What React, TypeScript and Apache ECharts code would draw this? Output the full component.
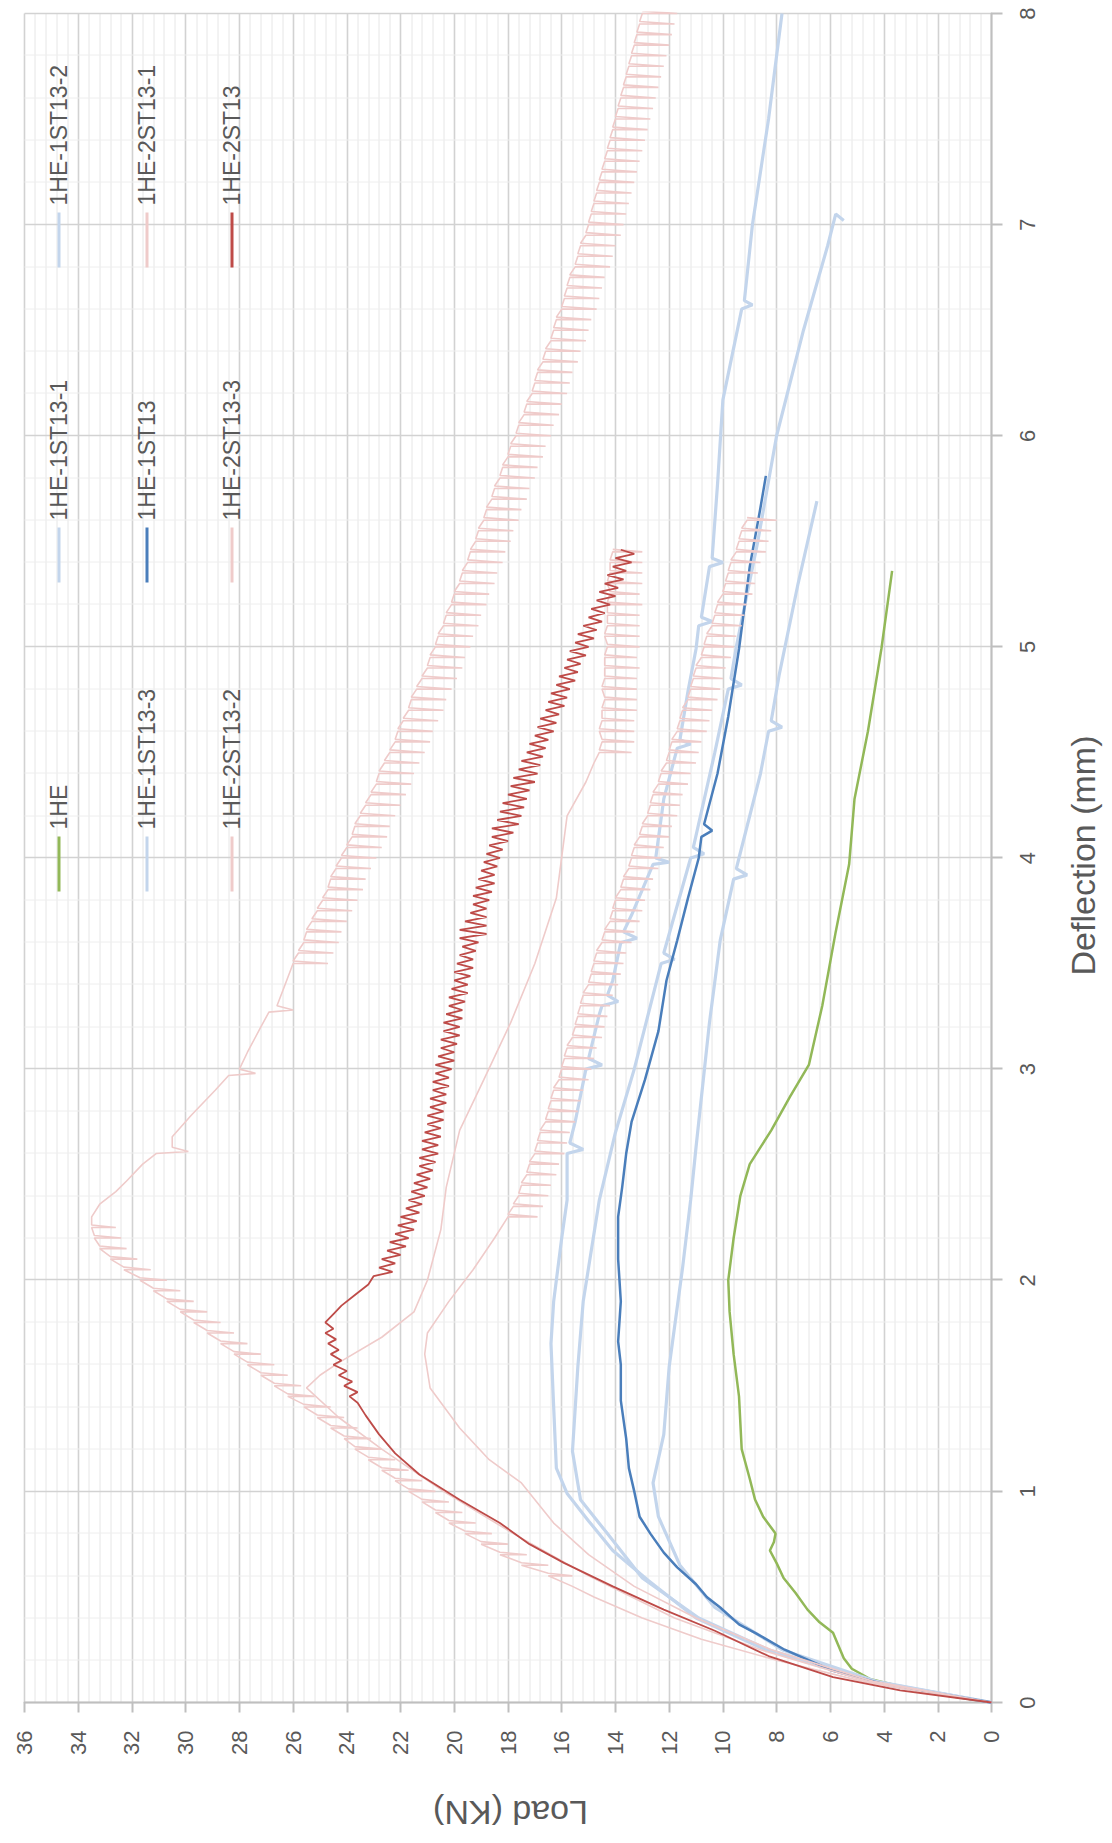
import React, { useEffect, useRef } from "react";
import * as echarts from "echarts";

type Pt = [number, number];
// [deflection, peak load, load after unloading] for one load cycle
type Cycle = [number, number, number];

// ---------- series values: [deflection (mm), load (kN)] ----------
const he1: Pt[] = [
  [0, 0], [0.05, 2.5], [0.11, 4.5], [0.16, 5.2], [0.21, 5.5], [0.27, 5.7], [0.33, 5.9], [0.38, 6.4],
  [0.44, 6.85], [0.52, 7.3], [0.59, 7.74], [0.66, 8.0], [0.72, 8.25], [0.76, 8.1], [0.8, 8.04],
  [0.88, 8.5], [0.96, 8.8], [1.06, 9.0], [1.2, 9.3], [1.45, 9.4], [1.65, 9.6], [1.85, 9.75], [2.0, 9.8],
  [2.2, 9.6], [2.4, 9.35], [2.55, 9.0], [2.71, 8.2], [2.87, 7.5], [3.02, 6.8], [3.3, 6.3], [3.65, 5.8],
  [3.97, 5.3], [4.28, 5.1], [4.6, 4.6], [4.99, 4.1], [5.36, 3.7],
];

const he1st13_1: Pt[] = [
  [0, 0], [0.1, 4.5], [0.25, 8.4], [0.4, 11.0], [0.58, 12.8], [0.72, 14.1], [0.86, 15.0], [0.99, 15.8],
  [1.11, 16.2], [1.4, 16.3], [1.7, 16.4], [1.9, 16.3], [2.2, 16.0], [2.38, 15.8], [2.6, 15.8],
  [2.62, 15.2], [2.65, 15.7], [2.75, 15.5], [3.0, 15.1], [3.02, 14.5], [3.05, 15.0], [3.26, 14.6],
  [3.3, 14.5], [3.32, 13.9], [3.35, 14.3], [3.42, 14.1], [3.6, 13.8], [3.62, 13.2], [3.65, 13.7],
  [3.73, 13.4], [3.97, 12.6], [3.98, 12.0], [4.0, 12.5], [4.28, 12.2], [4.52, 11.7], [4.54, 11.2],
  [4.56, 11.6], [4.79, 11.3], [4.99, 11.0], [5.1, 10.9], [5.12, 10.4], [5.14, 10.8], [5.38, 10.5],
  [5.4, 10.0], [5.42, 10.4], [5.77, 10.2], [6.17, 10.0], [6.6, 9.3], [6.62, 8.9], [6.64, 9.2],
  [7.0, 8.9], [7.5, 8.3], [8.0, 7.8],
];

const he1st13_2: Pt[] = [
  [0, 0], [0.1, 4.4], [0.25, 8.3], [0.4, 10.9], [0.59, 13.0], [0.8, 14.3], [0.96, 15.3], [1.19, 15.6],
  [1.59, 15.4], [1.9, 15.2], [2.22, 14.8], [2.38, 14.6], [2.7, 14.0], [3.0, 13.3], [3.5, 12.3],
  [3.52, 11.8], [3.55, 12.2], [4.0, 11.2], [4.02, 10.7], [4.05, 11.1], [4.5, 10.3], [4.8, 9.8],
  [4.82, 9.3], [4.85, 9.7], [5.0, 9.5], [5.5, 8.7], [6.0, 8.0], [6.5, 7.0], [6.9, 6.1], [7.05, 5.8],
  [7.02, 5.5],
];

const he1st13_3: Pt[] = [
  [0, 0], [0.1, 4.3], [0.25, 7.8], [0.45, 10.3], [0.65, 11.6], [0.88, 12.4], [1.04, 12.6], [1.27, 12.2],
  [1.59, 12.0], [2.06, 11.5], [2.38, 11.2], [2.63, 11.0], [3.22, 10.5], [3.61, 10.1], [3.9, 9.6],
  [3.92, 9.1], [3.95, 9.5], [4.0, 9.4], [4.4, 8.6], [4.6, 8.3], [4.62, 7.8], [4.65, 8.2], [4.87, 7.9],
  [5.3, 7.2], [5.69, 6.5],
];

const he1st13: Pt[] = [
  [0, 0], [0.08, 3.8], [0.15, 5.9], [0.25, 7.7], [0.33, 8.8], [0.37, 9.4], [0.45, 10.1], [0.5, 10.6],
  [0.56, 11.0], [0.64, 11.7], [0.71, 12.2], [0.8, 12.7], [0.88, 13.1], [1.0, 13.3], [1.11, 13.5],
  [1.25, 13.6], [1.43, 13.8], [1.6, 13.8], [1.71, 13.9], [1.9, 13.8], [2.1, 13.9], [2.3, 13.9],
  [2.44, 13.75], [2.6, 13.6], [2.75, 13.4], [2.95, 12.9], [3.18, 12.4], [3.42, 12.1], [3.61, 11.7],
  [3.81, 11.3], [4.0, 10.9], [4.1, 10.8], [4.13, 10.4], [4.16, 10.7], [4.4, 10.2], [4.67, 9.8],
  [4.99, 9.4], [5.38, 9.0], [5.66, 8.6], [5.81, 8.4],
];

// 1HE-2ST13-1: initial branch, cyclic loading up to the peak, post-peak branch, cyclic softening
const he2st13_1Start: Pt[] = [
  [0, 0], [0.05, 2.6], [0.1, 4.8], [0.2, 8.0], [0.3, 10.8], [0.4, 13.0], [0.5, 14.8], [0.55, 15.6],
];
const he2st13_1Rise: Cycle[] = [
  [0.6, 16.5, 15.6], [0.65, 17.5, 16.5], [0.7, 18.3, 17.3], [0.75, 19.0, 18.0], [0.8, 19.6, 18.6],
  [0.85, 20.2, 19.2], [0.9, 20.7, 19.7], [0.95, 21.2, 20.2], [1.0, 21.7, 20.7], [1.05, 22.2, 21.2],
  [1.1, 22.7, 21.7], [1.15, 23.2, 22.2], [1.2, 23.7, 22.7], [1.25, 24.1, 23.1], [1.3, 24.6, 23.6],
  [1.35, 25.1, 24.1], [1.4, 25.6, 24.6], [1.45, 26.2, 25.2], [1.5, 26.7, 25.7], [1.55, 27.2, 26.2],
  [1.6, 27.7, 26.7], [1.65, 28.2, 27.2], [1.7, 28.7, 27.7], [1.75, 29.2, 28.2], [1.8, 29.7, 28.7],
  [1.85, 30.2, 29.2], [1.9, 30.7, 29.7], [1.95, 31.2, 30.2], [2.0, 31.7, 30.7], [2.05, 32.3, 31.3],
  [2.1, 32.8, 31.8], [2.15, 33.2, 32.2], [2.2, 33.4, 32.4], [2.25, 33.5, 32.6],
];
const he2st13_1Post: Pt[] = [
  [2.3, 33.5], [2.36, 33.2], [2.42, 32.6], [2.47, 32.2], [2.55, 31.6], [2.6, 31.1], [2.61, 29.9],
  [2.63, 30.5], [2.68, 30.5], [2.78, 29.8], [2.9, 28.9], [2.97, 28.4], [2.98, 27.4], [3.0, 28.0],
  [3.08, 27.7], [3.2, 27.2], [3.27, 26.9], [3.28, 26.0], [3.3, 26.6], [3.4, 26.3],
];
const he2st13_1Soft: Cycle[] = [
  [3.5, 26.0, 24.7], [3.55, 25.8, 24.5], [3.6, 25.6, 24.3], [3.65, 25.5, 24.2], [3.7, 25.3, 24.0],
  [3.75, 25.1, 23.8], [3.8, 24.9, 23.6], [3.85, 24.7, 23.4], [3.9, 24.6, 23.3], [3.95, 24.4, 23.1],
  [4.0, 24.2, 22.9], [4.05, 24.0, 22.7], [4.1, 23.8, 22.5], [4.15, 23.7, 22.4], [4.2, 23.5, 22.2],
  [4.25, 23.3, 22.0], [4.3, 23.1, 21.8], [4.35, 22.9, 21.6], [4.4, 22.8, 21.5], [4.45, 22.6, 21.3],
  [4.5, 22.4, 21.1], [4.55, 22.2, 20.9], [4.6, 22.1, 20.8], [4.65, 21.9, 20.6], [4.7, 21.7, 20.4],
  [4.75, 21.6, 20.3], [4.8, 21.4, 20.1], [4.85, 21.2, 19.9], [4.9, 21.0, 19.7], [4.95, 20.9, 19.6],
  [5.0, 20.7, 19.4], [5.05, 20.6, 19.3], [5.1, 20.4, 19.1], [5.15, 20.3, 19.0], [5.2, 20.1, 18.8],
  [5.25, 20.0, 18.7], [5.3, 19.8, 18.5], [5.35, 19.7, 18.4], [5.4, 19.5, 18.2], [5.45, 19.4, 18.1],
  [5.5, 19.2, 17.9], [5.55, 19.1, 17.8], [5.6, 18.9, 17.6], [5.65, 18.8, 17.5], [5.7, 18.6, 17.3],
  [5.75, 18.5, 17.2], [5.8, 18.3, 17.0], [5.85, 18.2, 16.9], [5.9, 18.0, 16.7], [5.95, 17.9, 16.6],
  [6.0, 17.7, 16.4], [6.05, 17.6, 16.3], [6.1, 17.4, 16.1], [6.15, 17.3, 16.0], [6.2, 17.1, 15.8],
  [6.25, 17.0, 15.7], [6.3, 16.9, 15.6], [6.35, 16.7, 15.4], [6.4, 16.6, 15.3], [6.45, 16.4, 15.1],
  [6.5, 16.3, 15.0], [6.55, 16.2, 14.9], [6.6, 16.0, 14.7], [6.65, 15.9, 14.6], [6.7, 15.8, 14.5],
  [6.75, 15.7, 14.4], [6.8, 15.5, 14.2], [6.85, 15.4, 14.1], [6.9, 15.3, 14.0], [6.95, 15.1, 13.8],
  [7.0, 15.0, 13.7], [7.05, 14.9, 13.6], [7.1, 14.8, 13.5], [7.15, 14.7, 13.4], [7.2, 14.6, 13.3],
  [7.25, 14.5, 13.2], [7.3, 14.4, 13.1], [7.35, 14.3, 13.0], [7.4, 14.2, 12.9], [7.45, 14.1, 12.8],
  [7.5, 14.0, 12.7], [7.55, 13.9, 12.6], [7.6, 13.8, 12.5], [7.65, 13.7, 12.4], [7.7, 13.6, 12.3],
  [7.75, 13.5, 12.2], [7.8, 13.4, 12.1], [7.85, 13.3, 12.0], [7.9, 13.2, 11.9], [7.95, 13.1, 11.8],
  [8.0, 13.0, 11.7],
];

// 1HE-2ST13-2
const he2st13_2Curve: Pt[] = [
  [0, 0], [0.1, 4.6], [0.25, 8.6], [0.4, 11.8], [0.6, 15.0], [0.8, 17.8], [1.0, 20.4], [1.2, 22.7],
  [1.35, 24.3], [1.49, 25.5], [1.55, 25.0], [1.61, 24.3], [1.73, 22.7], [1.85, 21.5], [2.0, 21.0],
  [2.24, 20.5], [2.44, 20.3], [2.71, 19.8], [2.95, 18.9], [3.22, 17.9], [3.5, 17.0], [3.81, 16.2],
  [4.2, 15.8], [4.36, 15.1], [4.45, 14.8],
];
const he2st13_2Cycles: Cycle[] = [
  [4.5, 14.6, 13.4], [4.55, 14.5, 13.3], [4.6, 14.6, 13.3], [4.65, 14.5, 13.3], [4.7, 14.5, 13.2],
  [4.75, 14.4, 13.2], [4.8, 14.5, 13.2], [4.85, 14.4, 13.2], [4.9, 14.4, 13.1], [4.95, 14.4, 13.2],
  [5.0, 14.3, 13.1], [5.05, 14.4, 13.1], [5.1, 14.3, 13.1], [5.15, 14.3, 13.1], [5.2, 14.3, 13.0],
  [5.25, 14.2, 13.1], [5.3, 14.3, 13.0], [5.35, 14.2, 13.0], [5.4, 14.2, 13.0], [5.45, 14.1, 13.0],
];

// 1HE-2ST13-3
const he2st13_3Curve: Pt[] = [
  [0, 0], [0.1, 4.4], [0.25, 8.2], [0.4, 11.0], [0.55, 13.3], [0.7, 15.0], [0.85, 16.3], [1.04, 17.5],
  [1.15, 18.7], [1.3, 19.8], [1.49, 20.9], [1.65, 21.1], [1.75, 21.0], [1.9, 20.2], [2.05, 19.3],
  [2.2, 18.5],
];
const he2st13_3Cycles: Cycle[] = [
  [2.3, 18.0, 16.9], [2.35, 17.8, 16.7], [2.4, 17.6, 16.5], [2.45, 17.5, 16.4], [2.5, 17.3, 16.2],
  [2.55, 17.2, 16.1], [2.6, 17.0, 15.9], [2.65, 16.9, 15.8], [2.7, 16.8, 15.7], [2.75, 16.6, 15.5],
  [2.8, 16.5, 15.4], [2.85, 16.4, 15.3], [2.9, 16.3, 15.2], [2.95, 16.1, 15.0], [3.0, 16.0, 14.9],
  [3.05, 15.9, 14.8], [3.1, 15.8, 14.7], [3.15, 15.6, 14.5], [3.2, 15.5, 14.4], [3.25, 15.4, 14.3],
  [3.3, 15.3, 14.2], [3.35, 15.2, 14.1], [3.4, 15.0, 13.9], [3.45, 14.9, 13.8], [3.5, 14.8, 13.7],
  [3.55, 14.7, 13.6], [3.6, 14.5, 13.4], [3.65, 14.4, 13.3], [3.7, 14.2, 13.1], [3.75, 14.1, 13.0],
  [3.8, 14.0, 12.9], [3.85, 13.8, 12.7], [3.9, 13.7, 12.6], [3.95, 13.5, 12.4], [4.0, 13.4, 12.3],
  [4.05, 13.3, 12.2], [4.1, 13.1, 12.0], [4.15, 13.0, 11.9], [4.2, 12.8, 11.7], [4.25, 12.7, 11.6],
  [4.3, 12.6, 11.5], [4.35, 12.4, 11.3], [4.4, 12.3, 11.2], [4.45, 12.1, 11.0], [4.5, 12.0, 10.9],
  [4.55, 11.9, 10.8], [4.6, 11.7, 10.6], [4.65, 11.6, 10.5], [4.7, 11.5, 10.4], [4.75, 11.3, 10.2],
  [4.8, 11.2, 10.1], [4.85, 11.1, 10.0], [4.9, 11.0, 9.9], [4.95, 10.8, 9.7], [5.0, 10.7, 9.6],
  [5.05, 10.6, 9.5], [5.1, 10.4, 9.3], [5.15, 10.3, 9.2], [5.2, 10.2, 9.1], [5.25, 10.0, 8.9],
  [5.3, 9.9, 8.8], [5.35, 9.8, 8.7], [5.4, 9.7, 8.6], [5.45, 9.5, 8.4], [5.5, 9.4, 8.3],
  [5.55, 9.3, 8.2], [5.6, 9.1, 8.0],
];

// 1HE-2ST13: loading branch and the oscillating post-peak branch
const he2st13Rise: Pt[] = [
  [0, 0], [0.057, 3.4], [0.12, 5.9], [0.22, 8.3], [0.34, 10.3], [0.44, 12.2], [0.55, 14.1], [0.66, 15.9],
  [0.75, 17.2], [0.85, 18.3], [0.96, 19.8], [1.08, 21.3], [1.18, 22.2], [1.27, 22.8], [1.36, 23.3],
  [1.42, 23.6], [1.45, 23.9], [1.47, 23.6], [1.5, 24.1], [1.52, 23.8], [1.55, 24.3], [1.57, 24.0],
  [1.6, 24.5], [1.62, 24.2], [1.65, 24.6], [1.67, 24.3], [1.7, 24.7], [1.72, 24.4], [1.75, 24.8],
  [1.77, 24.5], [1.8, 24.8], [1.84, 24.5], [1.88, 24.2], [1.93, 23.7], [1.98, 23.2],
];
const he2st13Post: Pt[] = [
  [2.02, 23.0], [2.04, 22.3], [2.06, 22.8], [2.08, 22.2], [2.1, 22.7], [2.12, 22.0], [2.14, 22.5],
  [2.16, 21.8], [2.18, 22.4], [2.2, 21.7], [2.22, 22.2], [2.24, 21.5], [2.26, 22.1], [2.28, 21.4],
  [2.3, 22.0], [2.32, 21.3], [2.34, 21.8], [2.36, 21.2], [2.38, 21.7], [2.4, 21.1], [2.42, 21.6],
  [2.44, 21.0], [2.46, 21.5], [2.48, 20.9], [2.5, 21.4], [2.52, 20.8], [2.54, 21.3], [2.56, 20.7],
  [2.58, 21.3], [2.6, 20.6], [2.62, 21.2], [2.64, 20.6], [2.66, 21.2], [2.68, 20.5], [2.7, 21.1],
  [2.72, 20.5], [2.74, 21.0], [2.76, 20.4], [2.78, 21.0], [2.8, 20.4], [2.82, 20.9], [2.84, 20.3],
  [2.86, 20.9], [2.88, 20.3], [2.9, 20.8], [2.92, 20.2], [2.94, 20.8], [2.96, 20.2], [2.98, 20.7],
  [3.0, 20.1], [3.02, 20.7], [3.04, 20.0], [3.06, 20.6], [3.08, 20.0], [3.1, 20.5], [3.12, 19.9],
  [3.14, 20.5], [3.16, 19.8], [3.18, 20.4], [3.2, 19.8], [3.22, 20.4], [3.24, 19.7], [3.26, 20.3],
  [3.28, 19.7], [3.3, 20.2], [3.32, 19.6], [3.34, 20.2], [3.36, 19.5], [3.38, 20.1], [3.4, 19.5],
  [3.42, 20.0], [3.44, 19.4], [3.46, 20.0], [3.48, 19.3], [3.5, 19.9], [3.52, 19.3], [3.54, 19.8],
  [3.56, 19.2], [3.58, 19.7], [3.6, 19.1], [3.62, 19.8], [3.64, 18.8], [3.66, 19.8], [3.68, 18.8],
  [3.7, 19.6], [3.72, 18.8], [3.74, 19.4], [3.76, 18.8], [3.78, 19.3], [3.8, 18.7], [3.82, 19.3],
  [3.84, 18.6], [3.86, 19.2], [3.88, 18.5], [3.9, 19.1], [3.92, 18.5], [3.94, 19.0], [3.96, 18.4],
  [3.98, 18.9], [4.0, 18.3], [4.02, 18.8], [4.04, 18.2], [4.06, 18.7], [4.08, 18.0], [4.1, 18.6],
  [4.12, 17.8], [4.14, 18.6], [4.16, 17.6], [4.18, 18.4], [4.2, 17.5], [4.22, 18.3], [4.24, 17.4],
  [4.26, 18.2], [4.28, 17.3], [4.3, 18.0], [4.32, 17.2], [4.34, 17.9], [4.36, 17.0], [4.38, 17.8],
  [4.4, 16.9], [4.42, 17.6], [4.44, 16.8], [4.46, 17.5], [4.48, 16.7], [4.5, 17.3], [4.52, 16.6],
  [4.54, 17.2], [4.56, 16.5], [4.58, 17.0], [4.6, 16.3], [4.62, 16.9], [4.64, 16.2], [4.66, 16.8],
  [4.68, 16.1], [4.7, 16.6], [4.72, 15.9], [4.74, 16.5], [4.76, 15.8], [4.78, 16.4], [4.8, 15.7],
  [4.82, 16.2], [4.84, 15.5], [4.86, 16.1], [4.88, 15.4], [4.9, 15.9], [4.92, 15.3], [4.94, 15.8],
  [4.96, 15.1], [4.98, 15.7], [5.0, 15.0], [5.02, 15.5], [5.04, 14.8], [5.06, 15.4], [5.08, 14.7],
  [5.1, 15.2], [5.12, 14.5], [5.14, 15.0], [5.16, 14.4], [5.18, 14.9], [5.2, 14.2], [5.22, 14.7],
  [5.24, 14.0], [5.26, 14.6], [5.28, 13.9], [5.3, 14.4], [5.32, 13.7], [5.34, 14.3], [5.36, 13.6],
  [5.38, 14.1], [5.4, 13.4], [5.42, 14.0], [5.44, 13.3], [5.46, 13.8],
];

const seriesNames = [
  "1HE", "1HE-1ST13-1", "1HE-1ST13-2", "1HE-1ST13-3", "1HE-1ST13",
  "1HE-2ST13-1", "1HE-2ST13-2", "1HE-2ST13-3", "1HE-2ST13",
];

// ---------- helpers ----------
// Each cycle: up to the peak, unload, then reload back to the peak load just past it,
// after which the trace follows the envelope to the next cycle.
const RELOAD_STEP = 0.012;
function cyclePoints(cycles: Cycle[]): Pt[] {
  const out: Pt[] = [];
  for (const [d, peak, low] of cycles) {
    out.push([d, peak]);
    out.push([d, low]);
    out.push([d + RELOAD_STEP, peak]);
  }
  return out;
}

const seriesData: Pt[][] = [
  he1,
  he1st13_1,
  he1st13_2,
  he1st13_3,
  he1st13,
  [...he2st13_1Start, ...cyclePoints(he2st13_1Rise), ...he2st13_1Post, ...cyclePoints(he2st13_1Soft)],
  [...he2st13_2Curve, ...cyclePoints(he2st13_2Cycles)],
  [...he2st13_3Curve, ...cyclePoints(he2st13_3Cycles)],
  [...he2st13Rise, ...he2st13Post],
];

const GREEN = "#92B858";
const LIGHT_BLUE = "#C3D5EC";
const BLUE = "#4A7EBB";
const LIGHT_RED = "#EFCBCA";
const RED = "#BE4B48";

const seriesStyle = [
  { color: GREEN, width: 2.5 },
  { color: LIGHT_BLUE, width: 3.2 },
  { color: LIGHT_BLUE, width: 3.2 },
  { color: LIGHT_BLUE, width: 3.2 },
  { color: BLUE, width: 2.5 },
  { color: LIGHT_RED, width: 1.6 },
  { color: LIGHT_RED, width: 1.6 },
  { color: LIGHT_RED, width: 1.6 },
  { color: RED, width: 1.8 },
];

// chart drawn landscape, then turned a quarter turn counter-clockwise on the page
const CHART_W = 1843;
const CHART_H = 1112;
const FONT = '"Liberation Sans", Arial, sans-serif';
const TEXT = "#595959";

const legendRows = [59, 147, 232];
const legendCols = [1014, 1323, 1638];

export default function App() {
  const ref = useRef<HTMLDivElement>(null);

  useEffect(() => {
    if (!ref.current) return;
    const chart = echarts.init(ref.current, undefined, { renderer: "svg" });

    const legends = seriesNames.map((name, i) => {
      const row = Math.floor(i / 3);
      const col = i % 3;
      return {
        data: [name],
        left: legendCols[col] - 62,
        top: legendRows[row] - 12,
        padding: 0,
        icon: "rect",
        itemWidth: 55,
        itemHeight: 3,
        textStyle: { fontFamily: FONT, fontSize: 23, color: TEXT, padding: [0, 0, 0, 2] },
        selectedMode: false,
      };
    });

    const series = seriesNames.map((name, i) => ({
      name,
      type: "line",
      data: seriesData[i],
      symbol: "none",
      showSymbol: false,
      smooth: false,
      clip: true,
      color: seriesStyle[i].color,
      lineStyle: { color: seriesStyle[i].color, width: seriesStyle[i].width },
      emphasis: { disabled: true },
      z: 2 + i,
    }));

    chart.setOption({
      animation: false,
      backgroundColor: "#ffffff",
      textStyle: { fontFamily: FONT },
      grid: { left: 141, right: 13, top: 24, bottom: 121, containLabel: false },
      xAxis: {
        type: "value",
        min: 0,
        max: 8,
        interval: 1,
        axisLine: { show: true, onZero: false, lineStyle: { color: "#BFBFBF", width: 2 } },
        axisTick: { show: true, length: 11, lineStyle: { color: "#BFBFBF", width: 2 } },
        axisLabel: { margin: 25, fontSize: 22, color: TEXT, fontFamily: FONT },
        splitLine: { show: true, lineStyle: { color: "#D2D2D2", width: 1.6 } },
        minorTick: { show: false, splitNumber: 5 },
        minorSplitLine: { show: true, lineStyle: { color: "#EEEEEE", width: 1 } },
      },
      yAxis: {
        type: "value",
        min: 0,
        max: 36,
        interval: 2,
        axisLine: { show: true, onZero: false, lineStyle: { color: "#BFBFBF", width: 2 } },
        axisTick: { show: true, length: 10, lineStyle: { color: "#BFBFBF", width: 2 } },
        axisLabel: { margin: 28, fontSize: 22, color: TEXT, fontFamily: FONT },
        splitLine: { show: true, lineStyle: { color: "#D2D2D2", width: 1.6 } },
        minorTick: { show: false, splitNumber: 5 },
        minorSplitLine: { show: true, lineStyle: { color: "#E6E6E6", width: 1 } },
      },
      legend: legends,
      series,
      graphic: [
        {
          type: "text",
          x: 988,
          y: 1082,
          style: {
            text: "Deflection (mm)",
            fontSize: 34,
            fontFamily: FONT,
            fill: TEXT,
            align: "center",
            verticalAlign: "middle",
          },
        },
        {
          type: "text",
          x: 31,
          y: 510,
          rotation: Math.PI / 2,
          style: {
            text: "Load (KN)",
            fontSize: 34,
            fontFamily: FONT,
            fill: TEXT,
            align: "center",
            verticalAlign: "middle",
          },
        },
      ],
    });

    return () => chart.dispose();
  }, []);

  return (
    <div
      style={{
        position: "absolute",
        left: 0,
        top: 0,
        width: CHART_H,
        height: CHART_W,
        overflow: "hidden",
        background: "#ffffff",
      }}
    >
      <div
        ref={ref}
        style={{
          position: "absolute",
          width: CHART_W,
          height: CHART_H,
          left: (CHART_H - CHART_W) / 2,
          top: (CHART_W - CHART_H) / 2,
          transform: "rotate(-90deg)",
        }}
      />
    </div>
  );
}
